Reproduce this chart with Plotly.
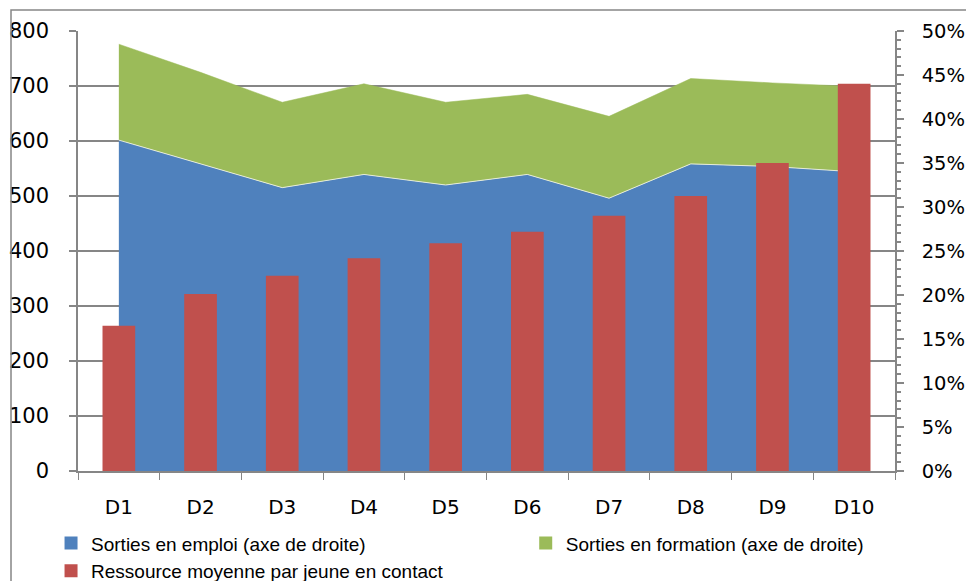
import plotly.graph_objects as go

categories = ["D1", "D2", "D3", "D4", "D5", "D6", "D7", "D8", "D9", "D10"]
# Right axis (share), stacked areas
sorties_emploi = [0.376, 0.349, 0.322, 0.337, 0.325, 0.337, 0.310, 0.349, 0.346, 0.340]
sorties_total = [0.485, 0.453, 0.419, 0.440, 0.419, 0.428, 0.403, 0.446, 0.441, 0.437]
sorties_formation = [round(t - e, 3) for t, e in zip(sorties_total, sorties_emploi)]
# Left axis, bars
ressource = [264, 322, 355, 387, 414, 435, 464, 500, 560, 704]

left_ticks = list(range(0, 801, 100))
right_ticks = [i / 100 for i in range(0, 51, 5)]

names = ["Sorties en emploi (axe de droite)",
         "Sorties en formation (axe de droite)",
         "Ressource moyenne par jeune en contact"]

BLUE = "#4F81BD"
GREEN = "#9BBB59"
RED = "#C0504D"
GRAY = "#868686"
TICKFONT = "DejaVu Sans"
LEGFONT = "Liberation Sans"

fig = go.Figure()
fig.add_trace(go.Scatter(
    x=categories, y=sorties_emploi, name=names[0], showlegend=False,
    stackgroup="one", mode="lines", fillcolor=BLUE,
    line=dict(color="rgba(235,240,225,0.9)", width=1), yaxis="y"))
fig.add_trace(go.Scatter(
    x=categories, y=sorties_formation, name=names[1], showlegend=False,
    stackgroup="one", mode="lines", fillcolor=GREEN,
    line=dict(color=GREEN, width=0.5), yaxis="y"))
fig.add_trace(go.Bar(
    x=categories, y=ressource, name=names[2], showlegend=False,
    marker=dict(color=RED, line=dict(width=0)), width=0.4, yaxis="y2"))

# legend swatches
for nm, col, leg in [(names[0], BLUE, "legend"), (names[2], RED, "legend"),
                     (names[1], GREEN, "legend2")]:
    fig.add_trace(go.Scatter(x=[None], y=[None], mode="markers", name=nm,
                             marker=dict(symbol="square", size=13, color=col),
                             legend=leg, yaxis="y2", showlegend=True))

legcommon = dict(orientation="v", yanchor="top", xanchor="left",
                 font=dict(size=19, family=LEGFONT), itemwidth=30,
                 bgcolor="rgba(0,0,0,0)", tracegroupgap=0, traceorder="normal")

fig.update_layout(
    width=966, height=581,
    margin=dict(l=78, r=71, t=31, b=110, autoexpand=False),
    paper_bgcolor="white", plot_bgcolor="white",
    font=dict(family=TICKFONT, color="black"),
    showlegend=True,
    legend=dict(x=-0.033, y=-0.121, **legcommon),
    legend2=dict(x=0.548, y=-0.121, **legcommon),
    xaxis=dict(type="category", range=[-0.5, 9.5], tickson="boundaries",
               ticks="outside", ticklen=7, tickcolor=GRAY, showline=True,
               linecolor=GRAY, linewidth=1.5, showgrid=False, automargin=False,
               tickfont=dict(size=20), ticklabelstandoff=17),
    yaxis=dict(range=[0, 0.5], tickvals=right_ticks, tickformat=".0%",
               side="right", showgrid=False, zeroline=False, showline=True,
               linecolor=GRAY, linewidth=1.5, ticks="outside", ticklen=7,
               tickcolor=GRAY, tickwidth=1.5, tickfont=dict(size=19.5),
               ticklabelstandoff=14, automargin=False,
               minor=dict(dtick=0.01, ticks="outside", ticklen=4, tickcolor=GRAY)),
    yaxis2=dict(range=[0, 800], tickvals=left_ticks, overlaying="y", side="left",
                showgrid=True, gridcolor=GRAY, gridwidth=1.5, zeroline=False,
                showline=True, linecolor=GRAY, linewidth=1.5, ticks="outside",
                ticklen=7, tickcolor=GRAY, tickwidth=1.5, tickfont=dict(size=21),
                ticklabelstandoff=16, automargin=False),
    shapes=[dict(type="rect", xref="paper", yref="paper",
                 x0=-0.082, x1=1.2, y0=-0.6, y1=1.048,
                 line=dict(color=GRAY, width=1.5), fillcolor="rgba(0,0,0,0)",
                 layer="above")],
)

fig.write_html("out.html", config={"displayModeBar": False},
               post_script="document.body.style.margin='0';document.body.style.overflow='hidden';")
